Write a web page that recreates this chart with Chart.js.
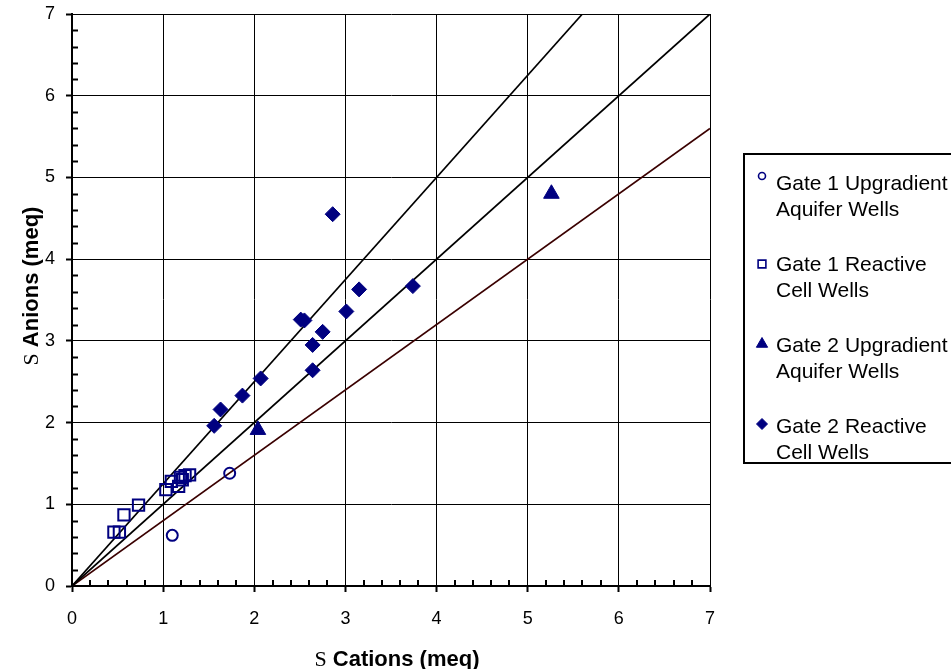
<!DOCTYPE html>
<html>
<head>
<meta charset="utf-8">
<script src="https://cdn.jsdelivr.net/npm/chart.js@4/dist/chart.umd.min.js"></script>
<style>
  html, body { margin: 0; padding: 0; background: #fff; }
  #wrap { position: relative; width: 951px; height: 669px; }
</style>
</head>
<body>
<div id="wrap"><canvas id="ionChart" width="951" height="669"></canvas></div>
<script>
// Sum of cations vs sum of anions (meq), per well group
const gate1UpgradientX = [1.10, 1.73];
const gate1UpgradientY = [0.62, 1.38];

const gate1ReactiveX = [0.46, 0.52, 0.57, 0.73, 1.03, 1.09, 1.17, 1.19, 1.21, 1.24, 1.29];
const gate1ReactiveY = [0.66, 0.66, 0.87, 0.99, 1.18, 1.28, 1.22, 1.33, 1.30, 1.35, 1.36];

const gate2UpgradientX = [2.04, 5.26];
const gate2UpgradientY = [1.91, 4.80];

const gate2ReactiveX = [1.56, 1.63, 1.87, 2.07, 2.51, 2.55, 2.64, 2.64, 2.75, 3.01, 3.15, 3.74, 2.86];
const gate2ReactiveY = [1.96, 2.16, 2.33, 2.54, 3.26, 3.25, 2.64, 2.95, 3.11, 3.36, 3.63, 3.67, 4.55];

// Reference lines: anions = ratio * cations
const balanceRatios = [1.25, 1.0, 0.8];
const axisMax = 7;
const axisTicks = [0, 1, 2, 3, 4, 5, 6, 7];

const legendLabels = [
    ['Gate 1 Upgradient', 'Aquifer Wells'],
    ['Gate 1 Reactive', 'Cell Wells'],
    ['Gate 2 Upgradient', 'Aquifer Wells'],
    ['Gate 2 Reactive', 'Cell Wells']
];

const navy = '#000080';
const sansFont = "'Liberation Sans', Arial, sans-serif";
const serifFont = "'Liberation Serif', 'Times New Roman', serif";

function toPoints(xs, ys) {
    return xs.map((x, i) => ({ x: x, y: ys[i] }));
}

// a line from the origin to wherever it leaves the 7 x 7 box
function ratioLine(r) {
    const end = r > 1 ? axisMax / r : axisMax;
    return [{ x: 0, y: 0 }, { x: end, y: end * r }];
}

// minor ticks every 0.2, pointing into the plot
const minorTicks = {
    id: 'minorTicks',
    afterDraw(chart) {
        const { ctx, chartArea, scales } = chart;
        ctx.save();
        ctx.strokeStyle = '#000';
        ctx.lineWidth = 2;
        for (let i = 1; i < axisMax * 5; i++) {
            if (i % 5 === 0) continue;
            const v = i / 5;
            const py = Math.round(scales.y.getPixelForValue(v)) + 0.5;
            ctx.beginPath();
            ctx.moveTo(chartArea.left, py);
            ctx.lineTo(chartArea.left + 6, py);
            ctx.stroke();
            const px = Math.round(scales.x.getPixelForValue(v));
            ctx.beginPath();
            ctx.moveTo(px, chartArea.bottom);
            ctx.lineTo(px, chartArea.bottom - 6);
            ctx.stroke();
        }
        ctx.restore();
    }
};

// axis titles: a Symbol-style "S" followed by bold text
function drawSigmaTitle(ctx, text, cx, baseY) {
    ctx.font = '22px ' + serifFont;
    const wS = ctx.measureText('S').width;
    ctx.font = 'bold 22px ' + sansFont;
    const wT = ctx.measureText(text).width;
    const gap = 6;
    let x = cx - (wS + gap + wT) / 2;
    ctx.textBaseline = 'alphabetic';
    ctx.textAlign = 'left';
    ctx.font = '22px ' + serifFont;
    ctx.fillText('S', x, baseY);
    ctx.font = 'bold 22px ' + sansFont;
    ctx.fillText(text, x + wS + gap, baseY);
}

const axisTitles = {
    id: 'axisTitles',
    afterDraw(chart) {
        const ctx = chart.ctx;
        ctx.save();
        ctx.fillStyle = '#000';
        drawSigmaTitle(ctx, 'Cations (meq)', 397, 666);
        ctx.translate(38, 286);
        ctx.rotate(-Math.PI / 2);
        drawSigmaTitle(ctx, 'Anions (meq)', 0, 0);
        ctx.restore();
    }
};

// boxed legend on the right with two-line labels
const boxLegend = {
    id: 'boxLegend',
    afterDraw(chart) {
        const ctx = chart.ctx;
        const marks = [
            { style: 'circle', r: 3.5, fill: false, y: 176 },
            { style: 'rect', r: 5.5, fill: false, y: 264 },
            { style: 'triangle', r: 6.5, fill: true, y: 344 },
            { style: 'rectRot', r: 5.5, fill: true, y: 424 }
        ];
        const baselines = [190, 271, 352, 433];
        ctx.save();
        ctx.strokeStyle = '#000';
        ctx.lineWidth = 2;
        ctx.strokeRect(744, 154, 230, 309);
        ctx.font = '21px ' + sansFont;
        ctx.textAlign = 'left';
        ctx.textBaseline = 'alphabetic';
        legendLabels.forEach((lines, i) => {
            const m = marks[i];
            ctx.fillStyle = m.fill ? navy : 'rgba(0,0,0,0)';
            ctx.strokeStyle = navy;
            ctx.lineWidth = m.fill ? 1 : 1.6;
            Chart.helpers.drawPoint(ctx, { pointStyle: m.style, radius: m.r, rotation: 0, borderWidth: ctx.lineWidth }, 762, m.y);
            ctx.fillStyle = '#000';
            ctx.fillText(lines[0], 776, baselines[i]);
            ctx.fillText(lines[1], 776, baselines[i] + 26);
        });
        ctx.restore();
    }
};

document.addEventListener('DOMContentLoaded', () => {
    Chart.defaults.font.family = sansFont;
    Chart.defaults.color = '#000';

    const lineColors = ['#000', '#000', '#3a0000'];
    const lineSets = balanceRatios.map((r, i) => ({
        type: 'line',
        label: 'ratio ' + r,
        data: ratioLine(r),
        borderColor: lineColors[i],
        borderWidth: 1.7,
        pointRadius: 0,
        fill: false,
        order: 2
    }));

    const ctx = document.getElementById('ionChart').getContext('2d');
    new Chart(ctx, {
        type: 'scatter',
        data: {
            datasets: [
                {
                    label: 'Gate 1 Upgradient Aquifer Wells',
                    data: toPoints(gate1UpgradientX, gate1UpgradientY),
                    pointStyle: 'circle',
                    pointRadius: 5.5,
                    borderWidth: 2,
                    borderColor: navy,
                    backgroundColor: 'rgba(0,0,0,0)',
                    order: 1
                },
                {
                    label: 'Gate 1 Reactive Cell Wells',
                    data: toPoints(gate1ReactiveX, gate1ReactiveY),
                    pointStyle: 'rect',
                    pointRadius: 8,
                    borderWidth: 2,
                    borderColor: navy,
                    backgroundColor: 'rgba(0,0,0,0)',
                    order: 1
                },
                {
                    label: 'Gate 2 Upgradient Aquifer Wells',
                    data: toPoints(gate2UpgradientX, gate2UpgradientY),
                    pointStyle: 'triangle',
                    pointRadius: 9,
                    borderWidth: 1,
                    borderColor: navy,
                    backgroundColor: navy,
                    order: 1
                },
                {
                    label: 'Gate 2 Reactive Cell Wells',
                    data: toPoints(gate2ReactiveX, gate2ReactiveY),
                    pointStyle: 'rectRot',
                    pointRadius: 7.5,
                    borderWidth: 1,
                    borderColor: navy,
                    backgroundColor: navy,
                    order: 1
                },
                ...lineSets
            ]
        },
        options: {
            responsive: false,
            animation: false,
            events: [],
            layout: { padding: { left: 0, top: 14, right: 241, bottom: 0 } },
            plugins: {
                legend: { display: false },
                tooltip: { enabled: false }
            },
            scales: {
                x: {
                    type: 'linear',
                    min: 0,
                    max: axisMax,
                    afterFit: s => { s.height = 83; s.paddingLeft = 0; s.paddingRight = 0; },
                    afterBuildTicks: s => { s.ticks = axisTicks.map(v => ({ value: v })); },
                    ticks: { font: { size: 18 }, padding: 16, color: '#000' },
                    grid: { color: '#000', lineWidth: 1, tickLength: 6, tickWidth: 2, tickColor: '#000' },
                    border: { color: '#000', width: 2 }
                },
                y: {
                    type: 'linear',
                    min: 0,
                    max: axisMax,
                    afterFit: s => { s.width = 72; s.paddingTop = 0; s.paddingBottom = 0; },
                    afterBuildTicks: s => { s.ticks = axisTicks.map(v => ({ value: v })); },
                    ticks: { font: { size: 18 }, padding: 11, color: '#000' },
                    grid: { color: '#000', lineWidth: 1, tickLength: 6, tickWidth: 2, tickColor: '#000' },
                    border: { color: '#000', width: 2 }
                }
            }
        },
        plugins: [minorTicks, axisTitles, boxLegend]
    });
});
</script>
</body>
</html>
